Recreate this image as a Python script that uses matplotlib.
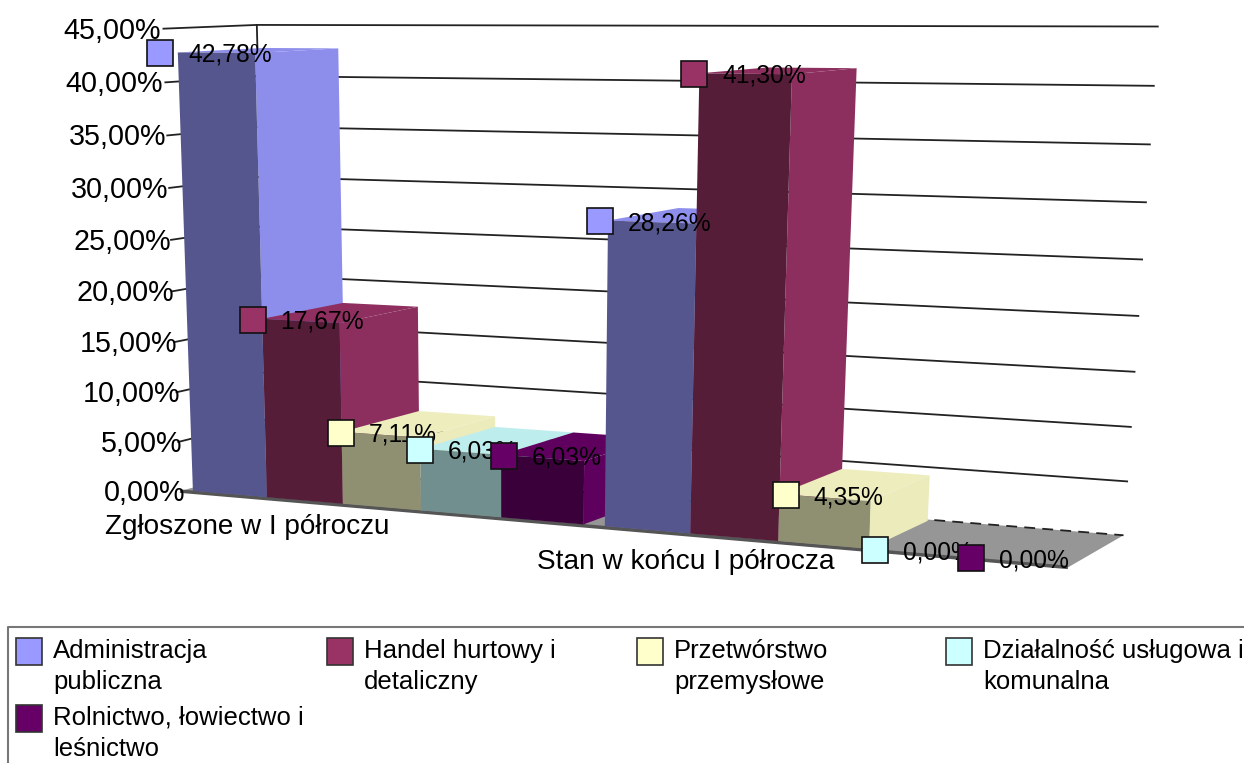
import numpy as np
import matplotlib
matplotlib.use('Agg')
import matplotlib.pyplot as plt
from matplotlib.patches import Polygon, Rectangle

plt.rcParams['font.family'] = ['Liberation Sans', 'DejaVu Sans']

# Data
categories = ['Zgłoszone w I półroczu', 'Stan w końcu I półrocza']
series_names = ['Administracja\npubliczna', 'Handel hurtowy i\ndetaliczny', 'Przetwórstwo\nprzemysłowe',
                'Działalność usługowa i\nkomunalna', 'Rolnictwo, łowiectwo i\nleśnictwo']
administracja = [42.78, 28.26]
handel = [17.67, 41.30]
przetworstwo = [7.11, 4.35]
dzialalnosc = [6.03, 0.00]
rolnictwo = [6.03, 0.00]
ticks = [0, 5, 10, 15, 20, 25, 30, 35, 40, 45]

values = [administracja, handel, przetworstwo, dzialalnosc, rolnictwo]
colors = ['#9999FF', '#993366', '#FFFFCC', '#CCFFFF', '#660066']

W, H = 1244, 763
VMAX = 45.0

# Perspective box of the old 3D chart: (along, value, depth) -> pixel
anchors = [
    ((0, 0, 0), (185, 492)), ((0, 45, 0), (155, 27)), ((0, 20, 0), (180, 291)), ((0, 40, 0), (163, 81)),
    ((0, 0, 1), (262, 467)), ((0, 45, 1), (262, 26)), ((0, 40, 1), (262, 78)), ((0, 10, 1), (262, 371)),
    ((1, 0, 0), (1066, 570)),
    ((1, 0, 1), (1125, 533)), ((1, 45, 1), (1157, 26)), ((1, 20, 1), (1139, 316)),
    ((1, 40, 1), (1153, 87)), ((1, 10, 1), (1132, 426)),
]
rows, rhs = [], []
for (a, v, d), (px, py) in anchors:
    v = v / VMAX
    rows.append([a, v, d, 1, 0, 0, 0, 0, -px * a, -px * v, -px * d])
    rhs.append(px)
    rows.append([0, 0, 0, 0, a, v, d, 1, -py * a, -py * v, -py * d])
    rhs.append(py)
h = np.linalg.lstsq(np.array(rows, float), np.array(rhs, float), rcond=None)[0]
cam = np.append(h, 1).reshape(3, 4)


def project(a, v, d):
    p = cam @ np.array([a, v / VMAX, d, 1.0])
    return p[0] / p[2], p[1] / p[2]


def shade(color, f):
    rgb = np.array(matplotlib.colors.to_rgb(color)) * f
    return tuple(rgb)


fig = plt.figure(figsize=(W / 100, H / 100), dpi=100)
ax = fig.add_axes([0, 0, 1, 1])
ax.set_xlim(0, W)
ax.set_ylim(H, 0)
ax.axis('off')

# gridlines on the left and back walls
for t in ticks:
    pts = [project(0, t, 0), project(0, t, 1), project(1, t, 1)]
    if t > 0:
        ax.plot(*zip(*pts), color='#222222', lw=1.3, zorder=1)
ax.plot(*zip(project(0, 0, 1), project(0, 45, 1)), color='#222222', lw=1.3, zorder=1)
for t in ticks:
    x, y = project(0, t, 0)
    ax.text(x - 3 + 0.18 * (45 - t), y + 2, f'{t:.2f}'.replace('.', ',') + '%', ha='right', va='center',
            fontsize=20.7, zorder=8)

# floor
floor = [project(0, 0, 0), project(1, 0, 0), project(1, 0, 1), project(0, 0, 1)]
ax.add_patch(Polygon(floor, closed=True, fc='#969696', ec='none', zorder=2))
front_edge = [project(0, 0, 0), project(1, 0, 0)]
ax.plot(*zip(*front_edge), color='#555555', lw=2.5, zorder=2, solid_capstyle='butt')
back_edge = [project(0, 0, 1), project(1, 0, 1)]
ax.plot(*zip(*back_edge), color='#222222', lw=1.3, ls=(0, (6, 4)), zorder=2)

# bars, left to right so each front covers the previous side
margin = 0.012
bar_w = (0.5 - 2 * margin) / 5
d0, d1 = 0.04, 0.96
z = 3
label_pos = []
for g in range(2):
    for s in range(5):
        v = values[s][g]
        a0 = g * 0.5 + margin + s * bar_w
        a1 = a0 + bar_w
        c = colors[s]
        if v > 0:
            front = [project(a0, 0, d0), project(a1, 0, d0), project(a1, v, d0), project(a0, v, d0)]
            side = [project(a1, 0, d0), project(a1, 0, d1), project(a1, v, d1), project(a1, v, d0)]
            top = [project(a0, v, d0), project(a1, v, d0), project(a1, v, d1), project(a0, v, d1)]
            ax.add_patch(Polygon(side, closed=True, fc=shade(c, 0.92), ec='none', zorder=z))
            ax.add_patch(Polygon(top, closed=True, fc=shade(c, 0.93), ec='none', zorder=z))
            ax.add_patch(Polygon(front, closed=True, fc=shade(c, 0.56), ec='none', zorder=z))
            z += 0.01
        label_pos.append((a0, v, s))

# data labels with their little colour keys, nudged off the projected corner
label_dx = [-14, -6, 3, 3, 6, -5, -2, 9, 9, 12]
for i, (a0, v, s) in enumerate(label_pos):
    x, y = project(a0, v, 0)
    x += label_dx[i]
    ax.add_patch(Rectangle((x - 13, y - 13), 26, 26, fc=colors[s], ec='#111111', lw=1.2, zorder=6 + 0.01 * x))
    ax.text(x + 28, y + 2, f'{v:.2f}'.replace('.', ',') + '%', ha='left', va='center', fontsize=17.7,
            zorder=6 + 0.01 * x)

# category labels
ax.text(105, 527, categories[0], ha='left', va='center', fontsize=20.1, zorder=8)
ax.text(537, 562, categories[1], ha='left', va='center', fontsize=20.2, zorder=8)

# legend, cut off at the figure edge like the original
ax.plot([8, 8, W], [H, 627, 627], color='#777777', lw=1.5, zorder=1, clip_on=False)
legend_x = [16, 327, 637, 946]
legend_y = [638, 705]
for i, name in enumerate(series_names):
    lx = legend_x[i % 4]
    ly = legend_y[i // 4]
    ax.add_patch(Rectangle((lx, ly), 26, 27, fc=colors[i], ec='#333333', lw=1.2))
    for j, line in enumerate(name.split('\n')):
        ax.text(lx + 37, ly + 13 + j * 31, line, ha='left', va='center', fontsize=18.5)

fig.savefig('out.png', dpi=100)
